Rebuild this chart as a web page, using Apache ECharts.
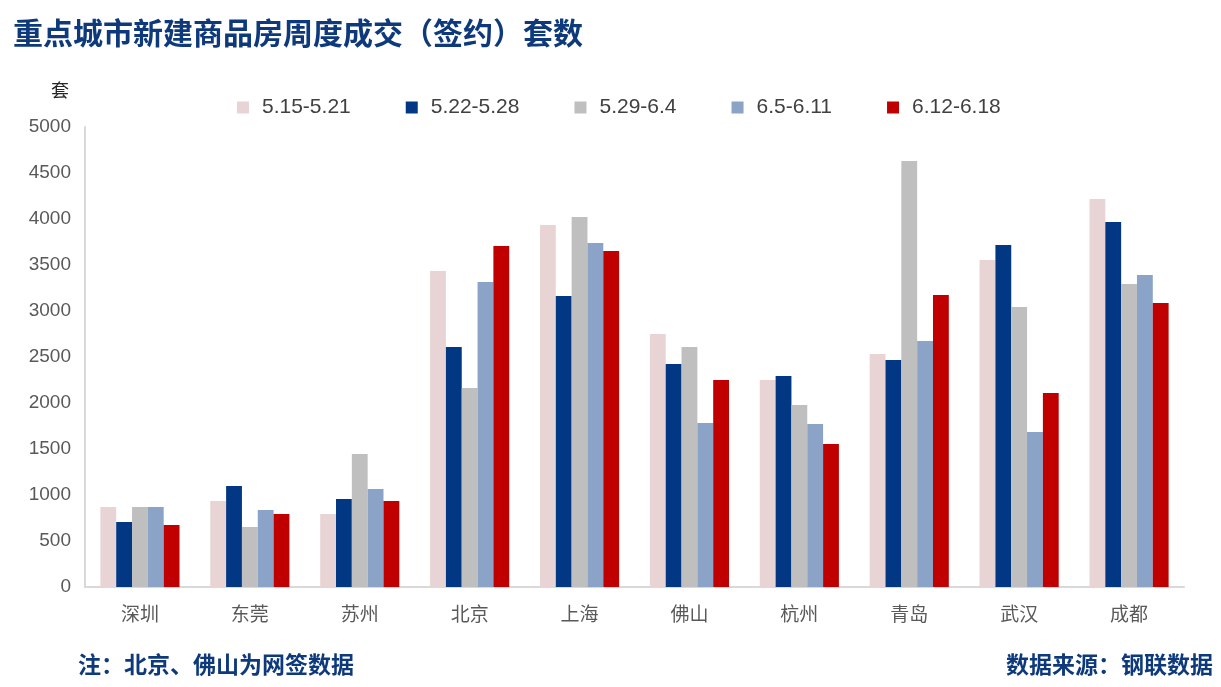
<!DOCTYPE html>
<html><head><meta charset="utf-8">
<script src="https://cdn.jsdelivr.net/npm/echarts@6/dist/echarts.min.js"></script>
<style>html,body{margin:0;padding:0;background:#fff}#c{width:1221px;height:687px}</style>
</head><body><div id="c"></div>
<script>
const categories = ['深圳','东莞','苏州','北京','上海','佛山','杭州','青岛','武汉','成都'];
const seriesNames = ['5.15-5.21','5.22-5.28','5.29-6.4','6.5-6.11','6.12-6.18'];
const s1 = [870, 935, 793, 3435, 3935, 2750, 2250, 2533, 3554, 4217];
const s2 = [707, 1098, 957, 2609, 3163, 2424, 2293, 2467, 3717, 3967];
const s3 = [870, 652, 1446, 2163, 4022, 2609, 1978, 4630, 3043, 3293];
const s4 = [870, 837, 1065, 3315, 3739, 1783, 1772, 2674, 1685, 3391];
const s5 = [674, 793, 935, 3707, 3652, 2250, 1554, 3174, 2109, 3087];
const colors = ['#E8D4D4','#023883','#BFBFBF','#8AA3C6','#C00000'];
const seriesData = [s1,s2,s3,s4,s5];
const chart = echarts.init(document.getElementById('c'));
const cjk = '"Noto Sans CJK SC", sans-serif';
chart.setOption({
  animation:false,
  title:{text:'重点城市新建商品房周度成交（签约）套数', left:8, top:13,
    textStyle:{fontFamily:cjk, fontSize:30, fontWeight:'bold', color:'#0E3A7C'}},
  legend:{top:92, left:232, itemWidth:12, itemHeight:12, itemGap:55, icon:'rect',
    textStyle:{fontFamily:'"Liberation Sans", sans-serif', fontSize:21, color:'#404040', padding:[0,0,0,8]},
    data:seriesNames},
  grid:{left:85, right:37, top:127, bottom:100},
  xAxis:{type:'category', data:categories,
    axisLine:{lineStyle:{color:'#D9D9D9', width:2}}, axisTick:{show:false},
    axisLabel:{fontFamily:cjk, fontSize:19, color:'#595959', margin:17}},
  yAxis:{type:'value', min:0, max:5000, interval:500, name:'套',
    nameLocation:'end', nameGap:28, nameTextStyle:{fontFamily:cjk, fontSize:18, color:'#262626', align:'right', padding:[0,16,0,0]},
    axisLine:{show:true, lineStyle:{color:'#D9D9D9', width:2}}, axisTick:{show:false},
    splitLine:{show:false},
    axisLabel:{fontFamily:'"Liberation Sans", sans-serif', fontSize:19, color:'#595959', margin:14,
      formatter:v=>String(v)}},
  series: seriesData.map((d,i)=>({name:seriesNames[i], type:'bar', data:d,
    barGap:'0%', barCategoryGap:'28%', itemStyle:{color:colors[i]}})),
  graphic:[
    {type:'text', left:78, top:653, style:{text:'注：北京、佛山为网签数据', font:'bold 23px '+cjk, fill:'#0E3A7C'}},
    {type:'text', right:8, top:653, style:{text:'数据来源：钢联数据', font:'bold 23px '+cjk, fill:'#0E3A7C'}}
  ]
});
</script></body></html>
